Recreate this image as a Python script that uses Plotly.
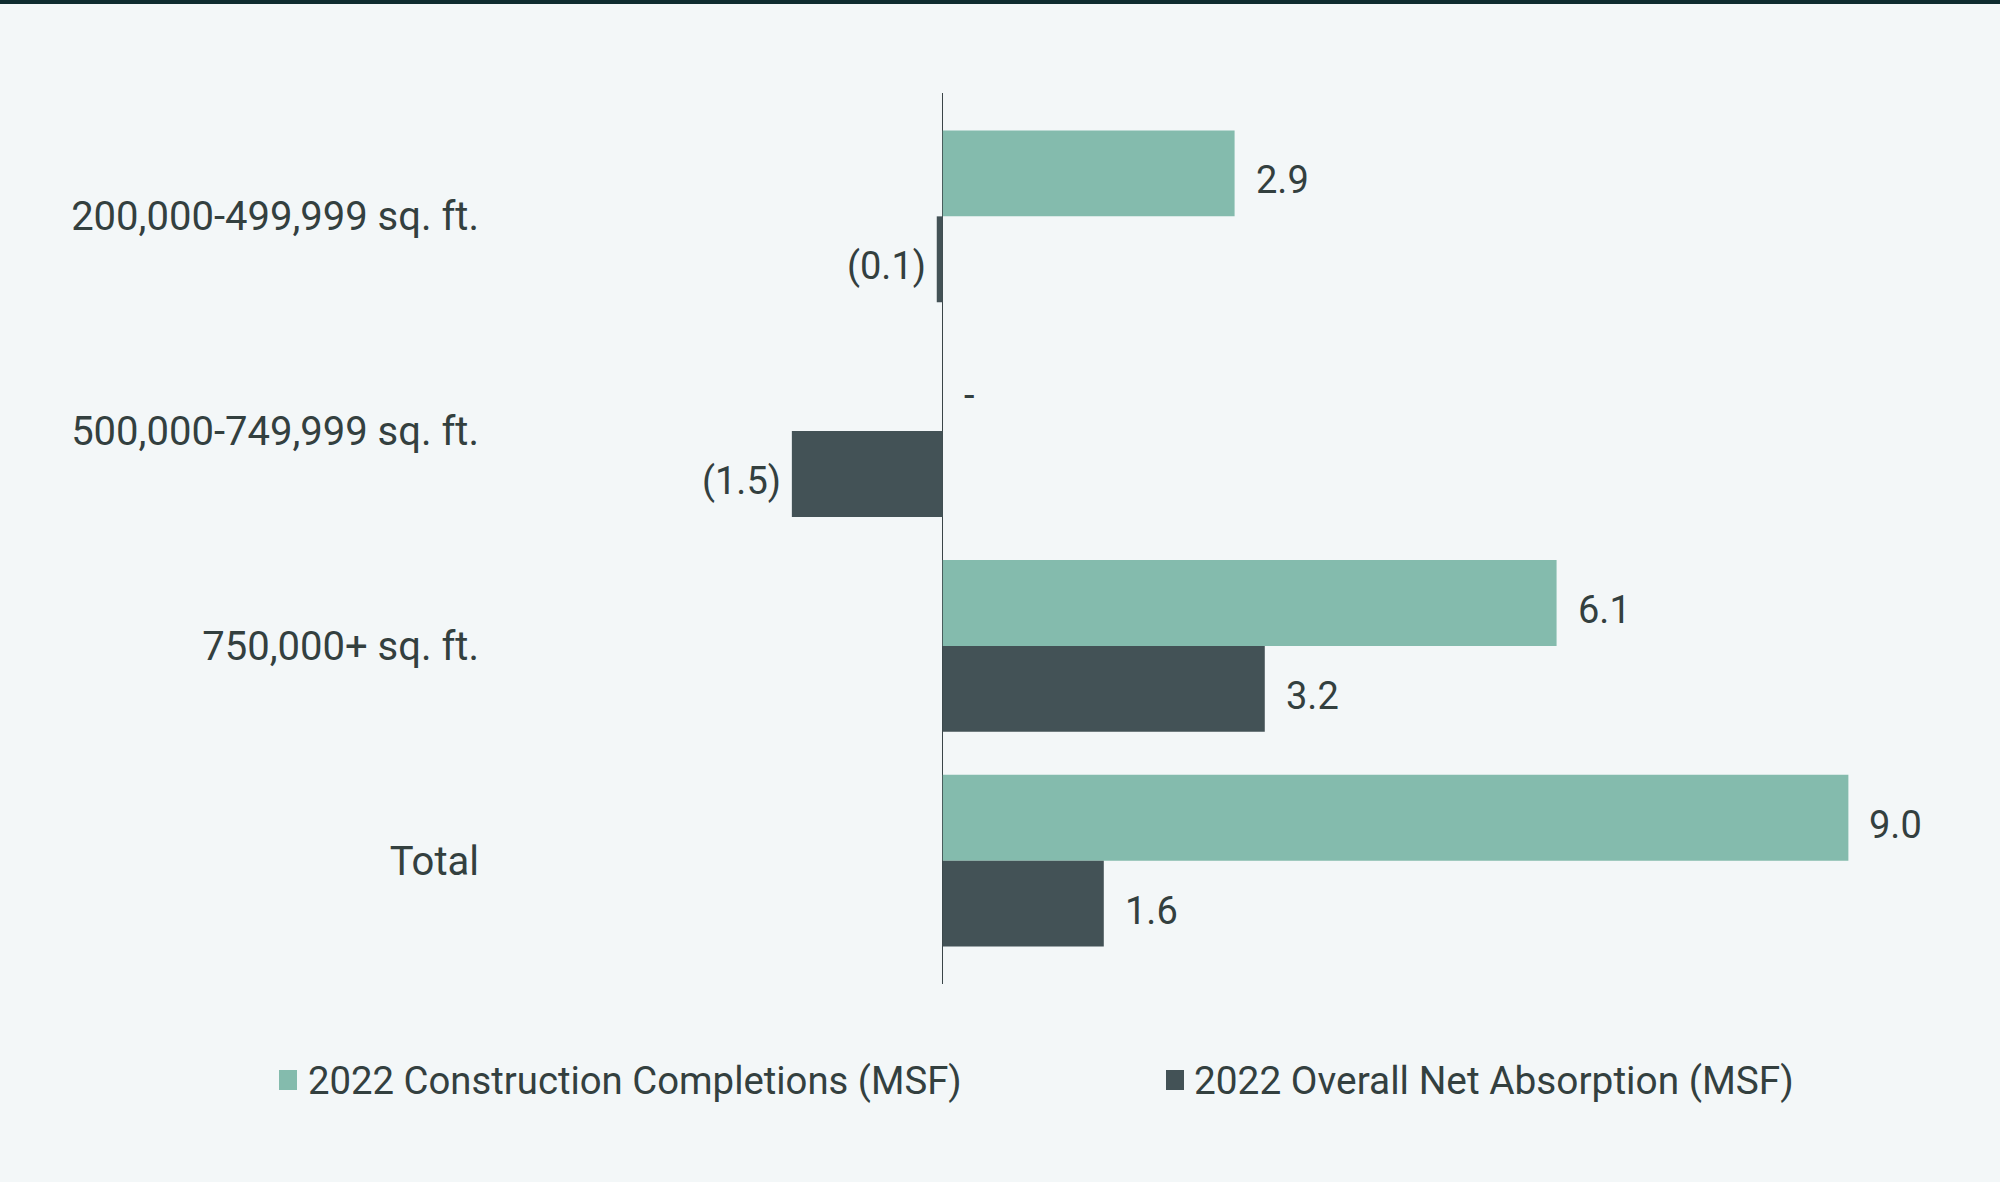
import plotly.graph_objects as go

# ---- data ----
categories = ["200,000-499,999 sq. ft.", "500,000-749,999 sq. ft.", "750,000+ sq. ft.", "Total"]
completions = [2.9, 0.0, 6.1, 9.0]
absorption = [-0.06, -1.5, 3.2, 1.6]
completions_labels = ["2.9", "-", "6.1", "9.0"]
absorption_labels = ["(0.1)", "(1.5)", "3.2", "1.6"]
series_names = ["2022 Construction Completions (MSF)", "2022 Overall Net Absorption (MSF)"]

# ---- style ----
GREEN = "#84bbad"
DARK = "#435256"
TEXT = "#33403f"
BG = "#f3f7f8"
FONT = "Roboto"
FS = 38

W, H = 2004, 1182
L, R, T, B = 490, 55, 93, 198
PW, PH = W - L - R, H - T - B
BAR_OFF = 42.9   # half a bar height in px (offset of each bar from category centre)
TXT_DROP = 7     # labels sit slightly below bar centre

def px(x):
    return (x - L) / PW

def py(y):
    return (H - B - y) / PH

fig = go.Figure()
fig.add_trace(go.Bar(
    y=categories, x=completions, orientation="h", name=series_names[0],
    marker=dict(color=GREEN, line=dict(width=0)), showlegend=False, hoverinfo="skip",
))
fig.add_trace(go.Bar(
    y=categories, x=absorption, orientation="h", name=series_names[1],
    marker=dict(color=DARK, line=dict(width=0)), showlegend=False, hoverinfo="skip",
))

annotations = []
for vals, lbls, ysh in [(completions, completions_labels, BAR_OFF - TXT_DROP),
                        (absorption, absorption_labels, -BAR_OFF - TXT_DROP)]:
    for cat, v, lbl in zip(categories, vals, lbls):
        neg = v < 0
        annotations.append(dict(
            x=v, y=cat, xref="x", yref="y", text=lbl, showarrow=False,
            xanchor="right" if neg else "left", yanchor="middle",
            xshift=-9 if neg else 19, yshift=ysh,
            font=dict(family=FONT, size=FS, color=TEXT),
        ))

shapes = [
    # top dark rule
    dict(type="rect", xref="paper", yref="paper", x0=px(0), x1=px(2000), y0=py(4), y1=py(-2),
         fillcolor="#0e2c2f", line=dict(width=0), layer="above"),
    # thin white strip at right edge
    dict(type="rect", xref="paper", yref="paper", x0=px(2000), x1=px(W + 2), y0=py(H + 2), y1=py(-2),
         fillcolor="#ffffff", line=dict(width=0), layer="above"),
    # legend swatches
    dict(type="rect", xref="paper", yref="paper", x0=px(279), x1=px(297), y0=py(1090), y1=py(1070),
         fillcolor=GREEN, line=dict(width=0)),
    dict(type="rect", xref="paper", yref="paper", x0=px(1166), x1=px(1184), y0=py(1090), y1=py(1070),
         fillcolor=DARK, line=dict(width=0)),
]
annotations += [
    dict(xref="paper", yref="paper", x=px(306), y=py(1080), text=series_names[0],
         xanchor="left", yanchor="middle", showarrow=False,
         font=dict(family=FONT, size=38.3, color=TEXT)),
    dict(xref="paper", yref="paper", x=px(1192), y=py(1080), text=series_names[1],
         xanchor="left", yanchor="middle", showarrow=False,
         font=dict(family=FONT, size=38.8, color=TEXT)),
]

fig.update_layout(
    width=W, height=H,
    paper_bgcolor=BG, plot_bgcolor=BG,
    margin=dict(l=L, r=R, t=T, b=B, pad=0),
    barmode="group", bargap=0.2, bargroupgap=0,
    font=dict(family=FONT, size=FS, color=TEXT),
    shapes=shapes, annotations=annotations,
    showlegend=False,
)
fig.update_xaxes(range=[-4.5, 10], showgrid=False, showticklabels=False, ticks="",
                 zeroline=True, zerolinecolor="#3a4548", zerolinewidth=1.3, showline=False)
fig.update_yaxes(type="category", range=[3.5744, -0.5744], showgrid=False, showline=False,
                 ticks="outside", ticklen=2, tickcolor="rgba(0,0,0,0)",
                 tickfont=dict(family=FONT, size=40, color=TEXT))

fig.write_html(
    "out.html",
    config={"displayModeBar": False},
    post_script="document.body.style.margin='0';document.body.style.background='#f3f7f8';",
)
